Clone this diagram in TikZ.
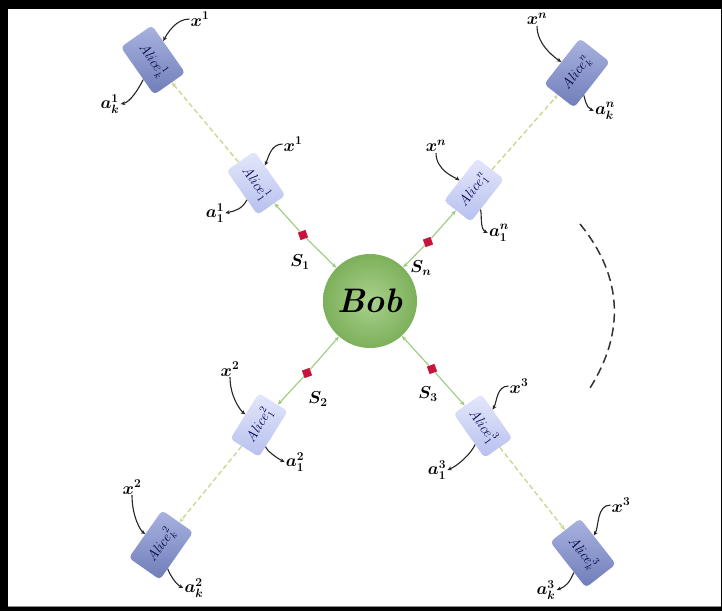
\documentclass[tikz,border=0pt]{standalone}
\usepackage{amsfonts}
\usepackage{amssymb}
\usepackage{amsmath}
\usetikzlibrary{arrows.meta}
\definecolor{bobin}{HTML}{A9D18C}
\definecolor{bobout}{HTML}{7DB05B}
\definecolor{feedgreen}{HTML}{9CCB80}
\definecolor{relaygreen}{HTML}{C4D88E}
\definecolor{srcred}{HTML}{C8143C}
\definecolor{inlight}{HTML}{E4E7FB}
\definecolor{indark}{HTML}{B7C0EE}
\definecolor{outlight}{HTML}{A9B3E0}
\definecolor{outdark}{HTML}{6F7DB9}

\begin{document}
\begin{tikzpicture}[x=1pt,y=-1pt,
  bob/.style={circle,minimum size=94pt,inner color=bobin,outer color=bobout,
    font=\fontsize{34}{34}\selectfont\bfseries\itshape},
  srcsq/.style={rectangle,fill=srcred,minimum size=8pt,inner sep=0pt,rotate=20},
  alicein/.style={rectangle,rounded corners=4pt,minimum width=54pt,minimum height=34pt,
    top color=inlight,bottom color=indark,inner sep=1pt,text=blue!30!black,
    font=\fontsize{14}{14}\selectfont},
  aliceout/.style={rectangle,rounded corners=4pt,minimum width=58pt,minimum height=38pt,
    top color=outlight,bottom color=outdark,inner sep=1pt,text=blue!25!black,
    font=\fontsize{14}{14}\selectfont},
  lbl/.style={font=\fontsize{17}{17}\selectfont\boldmath,inner sep=1pt},
  feed/.style={draw=feedgreen,line width=1.1pt,-{Stealth[length=5pt,width=4pt]}},
  relay/.style={draw=relaygreen,line width=1.3pt,dash pattern=on 5pt off 3pt,
    -{Stealth[length=5pt,width=4pt]}},
  lblarrow/.style={draw=black!85,line width=1.1pt,-{Stealth[length=4.5pt,width=4pt]}}]
\useasboundingbox (0,0) rectangle (722,611);
% frame
\path[fill=black] (0,0) rectangle (722,611);
\path[fill=white] (8,9) rectangle (721,606);
\path[draw=black!45,line width=1pt] (8,606) -- (721,606);
% centre and sources
\node[bob] (bob) at (370,301) {Bob};
\node[srcsq] (s1) at (303,235) {};
\node[srcsq] (sn) at (428,242) {};
\node[srcsq] (s2) at (307,373) {};
\node[srcsq] (s3) at (432,369) {};
\node[lbl] (s1lbl) at (300,262) {$S_1$};
\node[lbl] (snlbl) at (421,268) {$S_n$};
\node[lbl] (s2lbl) at (318,399) {$S_2$};
\node[lbl] (s3lbl) at (428,394) {$S_3$};
% first parties
\node[alicein,rotate=-55] (a11) at (256,183) {$\mathit{Alice}_1^1$};
\node[alicein,rotate=52] (a1n) at (474,190) {$\mathit{Alice}_1^n$};
\node[alicein,rotate=58] (a12) at (259,425) {$\mathit{Alice}_1^2$};
\node[alicein,rotate=-55] (a13) at (483,426) {$\mathit{Alice}_1^3$};
% last parties
\node[aliceout,rotate=-55] (ak1) at (153,60) {$\mathit{Alice}_k^1$};
\node[aliceout,rotate=52] (akn) at (577,73) {$\mathit{Alice}_k^n$};
\node[aliceout,rotate=55] (ak2) at (161,545) {$\mathit{Alice}_k^2$};
\node[aliceout,rotate=-52] (ak3) at (583,553) {$\mathit{Alice}_k^3$};
% links
\draw[feed] (s1) -- (bob);
\draw[feed] (s1) -- (a11);
\draw[relay] (a11) -- (ak1);
\draw[feed] (sn) -- (bob);
\draw[feed] (sn) -- (a1n);
\draw[relay] (a1n) -- (akn);
\draw[feed] (s2) -- (bob);
\draw[feed] (s2) -- (a12);
\draw[relay] (a12) -- (ak2);
\draw[feed] (s3) -- (bob);
\draw[feed] (s3) -- (a13);
\draw[relay] (a13) -- (ak3);
% inputs and outputs
\node[lbl] (x11) at (293,144) {$x^1$};
\node[lbl] (o11) at (215,213) {$a_1^1$};
\node[lbl] (xk1) at (200,19) {$x^1$};
\node[lbl] (ok1) at (110,104) {$a_k^1$};
\node[lbl] (x1n) at (436,146) {$x^n$};
\node[lbl] (o1n) at (499,233) {$a_1^n$};
\node[lbl] (xkn) at (537,19) {$x^n$};
\node[lbl] (okn) at (605,111) {$a_k^n$};
\node[lbl] (x12) at (230,369) {$x^2$};
\node[lbl] (o12) at (295,462) {$a_1^2$};
\node[lbl] (xk2) at (132,487) {$x^2$};
\node[lbl] (ok2) at (194,588) {$a_k^2$};
\node[lbl] (x13) at (519,386) {$x^3$};
\node[lbl] (o13) at (437,470) {$a_1^3$};
\node[lbl] (xk3) at (621,505) {$x^3$};
\node[lbl] (ok3) at (546,590) {$a_k^3$};
\draw[lblarrow] (x11.west) .. controls +(-12,0) and +(12,-24) .. (a11);
\draw[lblarrow] (a11) .. controls +(-14,26) and +(10,-2) .. (o11.east);
\draw[lblarrow] (xk1.west) .. controls +(-14,0) and +(14,-26) .. (ak1);
\draw[lblarrow] (ak1) .. controls +(-14,28) and +(10,-2) .. (ok1.east);
\draw[lblarrow] (x1n.south) .. controls +(0,18) and +(-18,-12) .. (a1n);
\draw[lblarrow] (a1n) .. controls +(8,24) and +(-8,-4) .. (o1n.west);
\draw[lblarrow] (xkn.south) .. controls +(0,20) and +(-20,-14) .. (akn);
\draw[lblarrow] (akn) .. controls +(8,26) and +(-8,-4) .. (okn.west);
\draw[lblarrow] (x12.south) .. controls +(0,20) and +(-18,-14) .. (a12);
\draw[lblarrow] (a12) .. controls +(8,26) and +(-8,-4) .. (o12.west);
\draw[lblarrow] (xk2.south) .. controls +(0,22) and +(-20,-14) .. (ak2);
\draw[lblarrow] (ak2) .. controls +(8,28) and +(-8,-4) .. (ok2.west);
\draw[lblarrow] (x13.west) .. controls +(-12,0) and +(14,-24) .. (a13);
\draw[lblarrow] (a13) .. controls +(-12,28) and +(10,-4) .. (o13.east);
\draw[lblarrow] (xk3.west) .. controls +(-14,0) and +(16,-26) .. (ak3);
\draw[lblarrow] (ak3) .. controls +(-14,30) and +(10,-4) .. (ok3.east);
% more parties
\draw[black!80,line width=1.5pt,dash pattern=on 9pt off 5pt]
  (580,224) .. controls (624,278) and (624,334) .. (590,388);
\end{tikzpicture}
\end{document}
